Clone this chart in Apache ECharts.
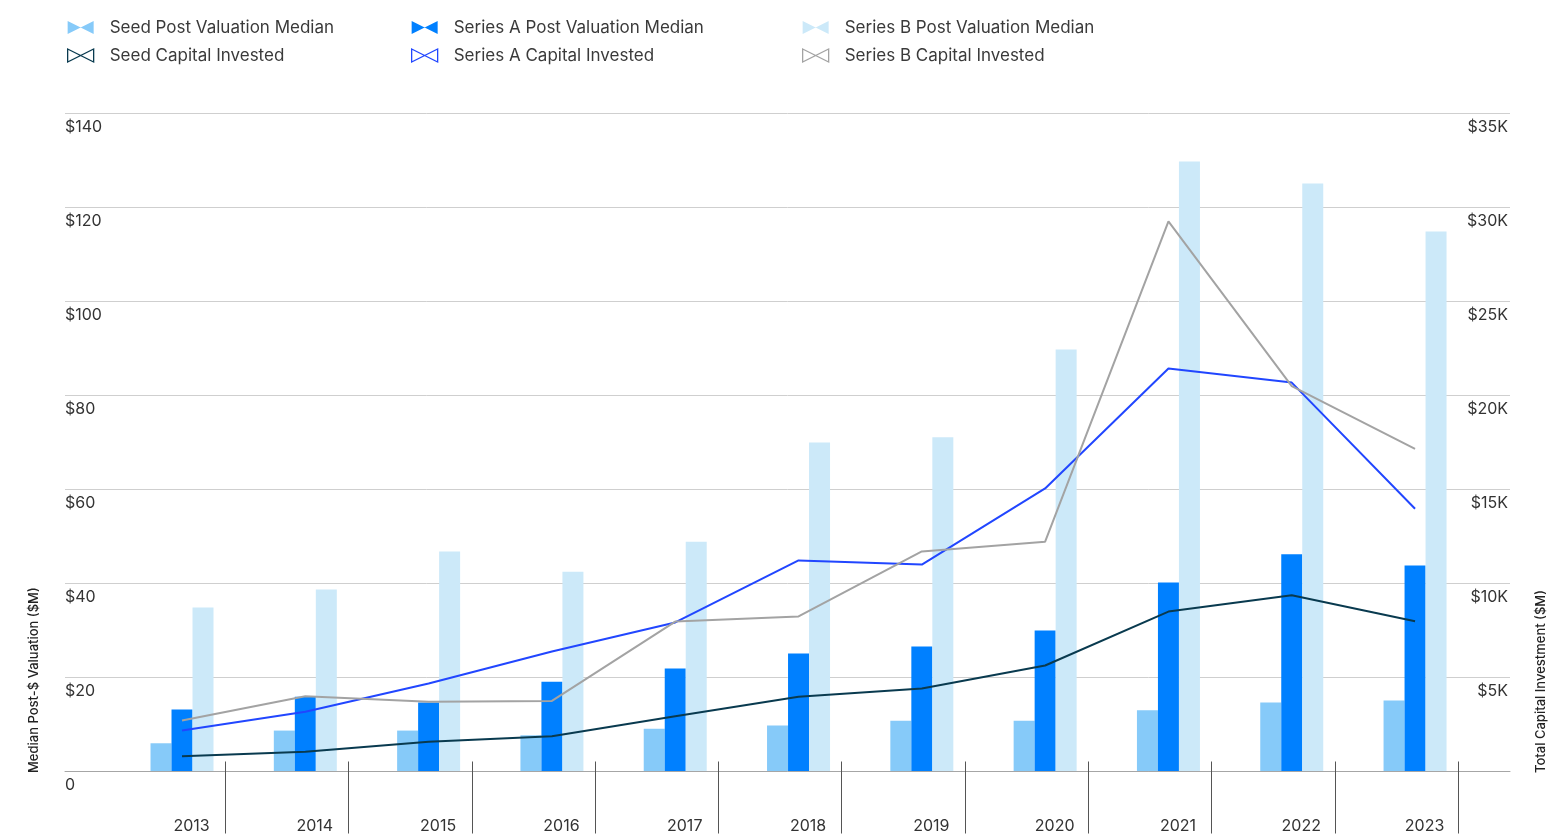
<!DOCTYPE html>
<html>
<head>
<meta charset="utf-8">
<script src="https://cdn.jsdelivr.net/npm/echarts@6/dist/echarts.min.js"></script>
<style>
  html, body { margin: 0; padding: 0; background: #fff; }
  #chart { width: 1559px; height: 834px; }
</style>
</head>
<body>
<div id="chart"></div>
<script>
// Years on the x axis
const years = ['2013', '2014', '2015', '2016', '2017', '2018', '2019', '2020', '2021', '2022', '2023'];

// Median post-money valuation, $M (left axis)
const seedPostMedian = [5.9, 8.6, 8.6, 7.6, 9.0, 9.7, 10.7, 10.7, 12.9, 14.6, 15.0];
const seriesAPostMedian = [13.1, 15.8, 14.6, 19.0, 21.8, 25.0, 26.5, 29.9, 40.1, 46.1, 43.7];
const seriesBPostMedian = [34.8, 38.6, 46.7, 42.4, 48.8, 69.9, 71.0, 89.7, 129.7, 125.0, 114.8];

// Total capital invested, $K millions (right axis)
const seedCapital = [0.79, 1.02, 1.55, 1.85, 2.91, 3.95, 4.39, 5.61, 8.48, 9.35, 7.97];
const seriesACapital = [2.15, 3.15, 4.65, 6.36, 7.9, 11.2, 10.98, 15.03, 21.41, 20.66, 13.95];
const seriesBCapital = [2.69, 3.98, 3.68, 3.73, 7.95, 8.22, 11.68, 12.2, 29.24, 20.47, 17.14];

// Axis ticks
const leftTicks = [0, 20, 40, 60, 80, 100, 120, 140];
const rightTicks = [0, 5, 10, 15, 20, 25, 30, 35];

const FONT = 'Inter';
const bowtie = 'path://M0,0 L26,13 L26,0 L0,13 Z';

const colors = {
  seedBar: '#86CAF9',
  aBar: '#0080FF',
  bBar: '#CCE9F9',
  seedLine: '#093A4F',
  aLine: '#2146FF',
  bLine: '#A3A3A3'
};

const toXY = arr => arr.map((v, i) => [i, v]);

// Categories sit at integer x positions; the axis range extends past the bars
const xMin = -0.949, xMax = 10.77;
const labelPos = years.map((_, i) => i + 0.077);
const tickPos = years.map((_, i) => i + 0.35);

function legendFor(left, barName, lineName, lineColor) {
  return {
    orient: 'vertical',
    left: left,
    top: 19,
    padding: 0,
    itemWidth: 26,
    itemHeight: 13,
    itemGap: 11,
    selectedMode: false,
    textStyle: { fontFamily: FONT, fontSize: 17, color: '#3a3a3a', padding: [0, 0, 0, 11] },
    data: [
      { name: barName, icon: bowtie },
      { name: lineName, icon: bowtie,
        itemStyle: { color: 'rgba(0,0,0,0)', borderColor: lineColor, borderWidth: 1.3 } }
    ]
  };
}

const chart = echarts.init(document.getElementById('chart'), null, { renderer: 'canvas' });

chart.setOption({
  animation: false,
  backgroundColor: '#fff',
  legend: [
    legendFor(67, 'Seed Post Valuation Median', 'Seed Capital Invested', colors.seedLine),
    legendFor(411, 'Series A Post Valuation Median', 'Series A Capital Invested', colors.aLine),
    legendFor(802, 'Series B Post Valuation Median', 'Series B Capital Invested', colors.bLine)
  ],
  grid: { left: 65, right: 49, top: 113, bottom: 62.5, containLabel: false },
  xAxis: [
    {
      type: 'value', min: xMin, max: xMax,
      axisLine: { show: true, lineStyle: { color: '#a6a6a6', width: 1 } },
      axisTick: { show: false },
      splitLine: { show: false },
      axisLabel: {
        customValues: labelPos,
        formatter: v => years[Math.round(v)] || '',
        margin: 47, fontFamily: FONT, fontSize: 16, color: '#333'
      }
    },
    {
      type: 'value', min: xMin, max: xMax, position: 'bottom', offset: -9.5,
      axisLine: { show: false },
      axisLabel: { show: false },
      splitLine: { show: false },
      axisTick: { show: true, customValues: tickPos, length: 72, lineStyle: { color: '#555', width: 1 } }
    }
  ],
  yAxis: [
    {
      type: 'value', position: 'left',
      min: leftTicks[0], max: leftTicks[leftTicks.length - 1], interval: 20,
      axisLine: { show: false }, axisTick: { show: false },
      splitLine: { lineStyle: { color: '#cfcfcf', width: 1 } },
      axisLabel: {
        inside: true, margin: 0, verticalAlign: 'top', padding: [6, 0, 0, 0],
        fontFamily: FONT, fontSize: 16, color: '#333',
        formatter: v => (v === 0 ? '0' : '$' + v)
      }
    },
    {
      type: 'value', position: 'right',
      min: rightTicks[0], max: rightTicks[rightTicks.length - 1], interval: 5,
      axisLine: { show: false }, axisTick: { show: false },
      splitLine: { show: false },
      axisLabel: {
        inside: true, margin: 2, verticalAlign: 'top', padding: [6, 0, 0, 0],
        fontFamily: FONT, fontSize: 16, color: '#333',
        formatter: v => (v === 0 ? '' : '$' + v + 'K')
      }
    }
  ],
  graphic: [
    {
      type: 'text', x: 34, y: 773, rotation: Math.PI / 2,
      style: { text: 'Median Post-$ Valuation ($M)', fontFamily: FONT, fontSize: 13, fontWeight: 500,
               fill: '#222', align: 'left', verticalAlign: 'middle' }
    },
    {
      type: 'text', x: 1541, y: 773, rotation: Math.PI / 2,
      style: { text: 'Total Capital Investment ($M)', fontFamily: FONT, fontSize: 13, fontWeight: 500,
               fill: '#222', align: 'left', verticalAlign: 'middle' }
    }
  ],
  series: [
    { name: 'Seed Post Valuation Median', type: 'bar', xAxisIndex: 0, yAxisIndex: 0,
      barWidth: 21, barGap: '0%', itemStyle: { color: colors.seedBar }, data: toXY(seedPostMedian), z: 2 },
    { name: 'Series A Post Valuation Median', type: 'bar', xAxisIndex: 0, yAxisIndex: 0,
      barWidth: 21, barGap: '0%', itemStyle: { color: colors.aBar }, data: toXY(seriesAPostMedian), z: 2 },
    { name: 'Series B Post Valuation Median', type: 'bar', xAxisIndex: 0, yAxisIndex: 0,
      barWidth: 21, barGap: '0%', itemStyle: { color: colors.bBar }, data: toXY(seriesBPostMedian), z: 2 },
    { name: 'Seed Capital Invested', type: 'line', xAxisIndex: 0, yAxisIndex: 1, symbol: 'none',
      lineStyle: { color: colors.seedLine, width: 2 }, itemStyle: { color: colors.seedLine },
      data: toXY(seedCapital), z: 5 },
    { name: 'Series A Capital Invested', type: 'line', xAxisIndex: 0, yAxisIndex: 1, symbol: 'none',
      lineStyle: { color: colors.aLine, width: 2 }, itemStyle: { color: colors.aLine },
      data: toXY(seriesACapital), z: 5 },
    { name: 'Series B Capital Invested', type: 'line', xAxisIndex: 0, yAxisIndex: 1, symbol: 'none',
      lineStyle: { color: colors.bLine, width: 2 }, itemStyle: { color: colors.bLine },
      data: toXY(seriesBCapital), z: 5 }
  ]
});
</script>
</body>
</html>
